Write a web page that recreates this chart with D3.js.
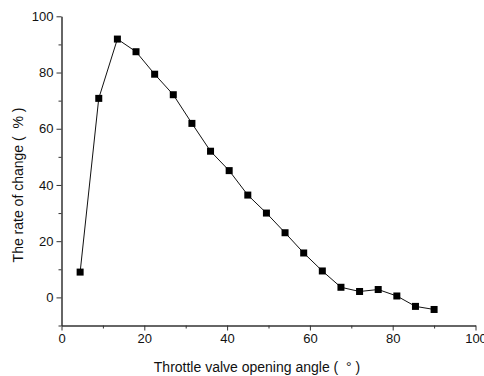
<!DOCTYPE html>
<html>
<meta charset="utf-8">
<title>Rate of change</title>
<style>
body { margin: 0; background: #fff; }
text { font-family: "Liberation Sans", Arial, sans-serif; fill: #111; }
.axis path, .axis line { stroke: #333; }
.axis path { stroke-width: 1.5px; }
</style>
<script src="https://d3js.org/d3.v7.min.js"></script>
<body>
<script>
// throttle valve opening angle (degrees)
const angle = [4.5, 9, 13.5, 18, 22.5, 27, 31.5, 36, 40.5, 45,
               49.5, 54, 58.5, 63, 67.5, 72, 76.5, 81, 85.5, 90];
// rate of change (%)
const rate = [9.0, 70.8, 91.9, 87.4, 79.4, 72.1, 61.9, 52.0, 45.1, 36.4,
              30.0, 23.0, 15.8, 9.4, 3.6, 2.1, 2.8, 0.5, -3.2, -4.3];
const xTicks = [0, 20, 40, 60, 80, 100];
const yTicks = [0, 20, 40, 60, 80, 100];

const width = 484, height = 376;

const svg = d3.select("body").append("svg")
    .attr("width", width)
    .attr("height", height);

const x = d3.scaleLinear().domain([0, 100]).range([61.5, 475.5]);
const y = d3.scaleLinear().domain([-10, 100]).range([325.5, 16.3]);

// minor ticks first
svg.append("g")
    .attr("class", "axis")
    .attr("transform", "translate(0," + y(-10) + ")")
    .call(d3.axisBottom(x).tickValues(d3.range(10, 100, 20)).tickSize(3).tickFormat(""))
    .call(g => g.select(".domain").remove());
svg.append("g")
    .attr("class", "axis")
    .attr("transform", "translate(" + x(0) + ",0)")
    .call(d3.axisLeft(y).tickValues(d3.range(-10, 100, 20)).tickSize(3).tickFormat(""))
    .call(g => g.select(".domain").remove());

const xAxis = svg.append("g")
    .attr("class", "axis")
    .attr("transform", "translate(0," + y(-10) + ")")
    .call(d3.axisBottom(x).tickValues(xTicks).tickSize(5).tickSizeOuter(0).tickPadding(3));
xAxis.selectAll("text").attr("font-size", 13).style("font-family", "Liberation Sans, Arial, sans-serif").attr("fill", "#111");

const yAxis = svg.append("g")
    .attr("class", "axis")
    .attr("transform", "translate(" + x(0) + ",0)")
    .call(d3.axisLeft(y).tickValues(yTicks).tickSize(5).tickSizeOuter(0).tickPadding(3));
yAxis.selectAll("text").attr("font-size", 13).style("font-family", "Liberation Sans, Arial, sans-serif").attr("fill", "#111");

const pts = angle.map((a, i) => [a, rate[i]]);

svg.append("path")
    .datum(pts)
    .attr("fill", "none")
    .attr("stroke", "#111")
    .attr("stroke-width", 1)
    .attr("d", d3.line().x(d => x(d[0])).y(d => y(d[1])));

svg.append("g").selectAll("rect")
  .data(pts)
  .join("rect")
    .attr("x", d => x(d[0]) - 3.5)
    .attr("y", d => y(d[1]) - 3.5)
    .attr("width", 7)
    .attr("height", 7)
    .attr("fill", "#000");

svg.append("text")
    .attr("x", 257)
    .attr("y", 372)
    .attr("text-anchor", "middle")
    .attr("font-size", 14)
    .attr("xml:space", "preserve")
    .text("Throttle valve opening angle (  \u00b0 )");

svg.append("text")
    .attr("transform", "translate(22.5,185) rotate(-90)")
    .attr("text-anchor", "middle")
    .attr("font-size", 14)
    .attr("xml:space", "preserve")
    .text("The rate of change (  % )");
</script>
</body>
</html>
